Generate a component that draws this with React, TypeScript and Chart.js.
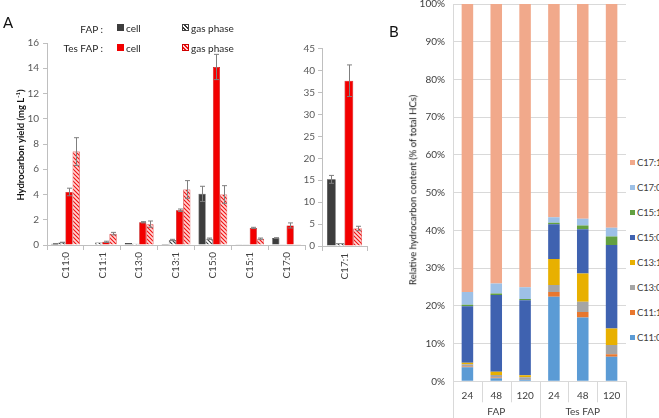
import React, { useEffect, useRef } from 'react';
import { Chart, registerables } from 'chart.js';
Chart.register(...registerables);

// ---------- Panel A data (mg L-1) ----------
const categoriesA = ['C11:0', 'C11:1', 'C13:0', 'C13:1', 'C15:0', 'C15:1', 'C17:0'];
const fapCell = [0.1, 0, 0.15, 0.07, 4.05, 0.05, 0.55];
const fapGas = [0.2, 0.2, 0.1, 0.4, 0.5, 0.02, 0.02];
const tesCell = [4.2, 0.25, 1.8, 2.75, 14.1, 1.35, 1.55];
const tesGas = [7.4, 0.9, 1.65, 4.4, 4.0, 0.5, 0.05];
const fapCellErr = [0.02, 0, 0, 0, 0.6, 0, 0.03];
const fapGasErr = [0.02, 0, 0, 0.05, 0.05, 0, 0];
const tesCellErr = [0.3, 0.05, 0.05, 0.1, 1.0, 0.05, 0.2];
const tesGasErr = [1.1, 0.1, 0.25, 0.7, 0.7, 0.05, 0];

const categoriesA2 = ['C17:1'];
const fapCell2 = [15.2];
const fapGas2 = [0.6];
const tesCell2 = [37.7];
const tesGas2 = [4.0];
const fapCellErr2 = [0.9];
const fapGasErr2 = [0];
const tesCellErr2 = [3.6];
const tesGasErr2 = [0.5];

const yTicksA = { min: 0, max: 16, step: 2 };
const yTicksA2 = { min: 0, max: 45, step: 5 };

// ---------- Panel B data (% of total HCs) ----------
const timesB = ['24', '48', '120', '24', '48', '120'];
const groupsB = ['FAP', 'Tes FAP'];
const groupSizeB = [3, 3];
const seriesNamesB = ['C11:0', 'C11:1', 'C13:0', 'C13:1', 'C15:0', 'C15:1', 'C17:0', 'C17:1'];
const c110 = [3.7, 0.8, 0.5, 22.4, 16.9, 6.5];
const c111 = [0.2, 0.2, 0.1, 1.3, 1.5, 0.7];
const c130 = [0.6, 0.7, 0.5, 1.8, 2.7, 2.4];
const c131 = [0.4, 0.8, 0.5, 6.9, 7.5, 4.4];
const c150 = [15.0, 20.4, 19.9, 9.2, 11.7, 22.1];
const c151 = [0.4, 0.4, 0.3, 0.4, 1.0, 2.3];
const c170 = [3.4, 2.6, 3.1, 1.5, 1.8, 2.3];
const c171 = [76.3, 74.1, 75.1, 56.5, 56.9, 59.3];
const seriesB = [c110, c111, c130, c131, c150, c151, c170, c171];

const colorsB = ['#5B9BD5', '#E8772E', '#A5A5A5', '#E8B000', '#3F62B0', '#62A041', '#9DC0E6', '#F1A98B'];

const FONT = 'Lato, "Liberation Sans", sans-serif';

function makeHatch(bg: string, fg: string) {
  const c = document.createElement('canvas');
  c.width = 4;
  c.height = 4;
  const g = c.getContext('2d')!;
  g.fillStyle = bg;
  g.fillRect(0, 0, 4, 4);
  g.strokeStyle = fg;
  g.lineWidth = 1.1;
  g.beginPath();
  g.moveTo(0, 0); g.lineTo(4, 4);
  g.moveTo(-2, 2); g.lineTo(2, 6);
  g.moveTo(2, -2); g.lineTo(6, 2);
  g.stroke();
  return g.createPattern(c, 'repeat');
}

const errorBarsPlugin = {
  id: 'errorBars',
  afterDatasetsDraw(chart: any) {
    const ctx = chart.ctx;
    const ys = chart.scales.y;
    chart.data.datasets.forEach((ds: any, i: number) => {
      const errs = ds.errors;
      if (!errs) return;
      const meta = chart.getDatasetMeta(i);
      meta.data.forEach((bar: any, j: number) => {
        const e = errs[j];
        if (!e) return;
        const v = ds.data[j];
        const x = Math.round(bar.x) + 0.5;
        const yt = ys.getPixelForValue(v + e);
        const yb = ys.getPixelForValue(Math.max(0, v - e));
        ctx.save();
        ctx.strokeStyle = '#7F7F7F';
        ctx.lineWidth = 1;
        ctx.beginPath();
        ctx.moveTo(x, yt); ctx.lineTo(x, yb);
        ctx.moveTo(x - 2.5, yt); ctx.lineTo(x + 2.5, yt);
        ctx.moveTo(x - 2.5, yb); ctx.lineTo(x + 2.5, yb);
        ctx.stroke();
        ctx.restore();
      });
    });
  },
};

const multiLevelPlugin = {
  id: 'multiLevel',
  afterDraw(chart: any) {
    const xs = chart.scales.x;
    const ctx = chart.ctx;
    const area = chart.chartArea;
    const n = chart.data.labels.length;
    const w = xs.getPixelForValue(1) - xs.getPixelForValue(0);
    const start = xs.getPixelForValue(0) - w / 2;
    const bounds: number[] = [0];
    let acc = 0;
    groupSizeB.forEach((s) => { acc += s; bounds.push(acc); });
    ctx.save();
    ctx.strokeStyle = '#D9D9D9';
    ctx.lineWidth = 1;
    for (let i = 0; i <= n; i++) {
      const x = Math.round(start + i * w) + 0.5;
      const long = bounds.includes(i);
      ctx.beginPath();
      ctx.moveTo(x, area.bottom);
      ctx.lineTo(x, long ? chart.height : area.bottom + 21);
      ctx.stroke();
    }
    ctx.fillStyle = '#404040';
    ctx.font = '10px ' + FONT;
    ctx.textAlign = 'center';
    ctx.textBaseline = 'middle';
    groupsB.forEach((g, k) => {
      const a = bounds[k], b = bounds[k + 1];
      const cx = start + ((a + b) / 2) * w;
      ctx.fillText(g, cx, area.bottom + 30.5);
    });
    ctx.restore();
  },
};

function barDatasetsA(fc: number[], fg: number[], tc: number[], tg: number[], fce: number[], fge: number[], tce: number[], tge: number[], fapPat: any, tesPat: any) {
  return [
    { label: 'FAP cell', data: fc, errors: fce, backgroundColor: '#3D3D3D', borderColor: '#262626', borderWidth: 0.6 },
    { label: 'FAP gas phase', data: fg, errors: fge, backgroundColor: fapPat, borderColor: '#404040', borderWidth: 0.6 },
    { label: 'Tes FAP cell', data: tc, errors: tce, backgroundColor: '#F20000', borderColor: '#B00000', borderWidth: 0.6 },
    { label: 'Tes FAP gas phase', data: tg, errors: tge, backgroundColor: tesPat, borderColor: '#D00000', borderWidth: 0.6 },
  ];
}

function axesA(yr: { min: number; max: number; step: number }, yWidth: number, xHeight: number, pad: number) {
  return {
    x: {
      grid: { display: true, drawOnChartArea: false, offset: true, color: '#BFBFBF', tickLength: 5 },
      border: { color: '#BFBFBF' },
      ticks: { minRotation: 90, maxRotation: 90, autoSkip: false, padding: 2, color: '#404040', font: { size: 10, family: FONT } },
      afterFit: (s: any) => { s.height = xHeight; },
    },
    y: {
      min: yr.min,
      max: yr.max,
      grid: { drawOnChartArea: false, tickLength: 4, color: '#BFBFBF' },
      border: { color: '#BFBFBF' },
      ticks: { stepSize: yr.step, padding: pad, color: '#595959', font: { size: 10, family: FONT } },
      afterFit: (s: any) => { s.width = yWidth; },
    },
  };
}

export default function App() {
  const r1 = useRef<HTMLCanvasElement>(null);
  const r2 = useRef<HTMLCanvasElement>(null);
  const r3 = useRef<HTMLCanvasElement>(null);

  useEffect(() => {
    const fapPat = makeHatch('#FFFFFF', '#3A3A3A');
    const tesPat = makeHatch('#FFD6D6', '#F01010');
    const base = {
      responsive: false,
      animation: false as const,
      devicePixelRatio: 1,
      plugins: { legend: { display: false }, tooltip: { enabled: false } },
    };

    const c1 = new Chart(r1.current!, {
      type: 'bar',
      data: {
        labels: categoriesA,
        datasets: barDatasetsA(fapCell, fapGas, tesCell, tesGas, fapCellErr, fapGasErr, tesCellErr, tesGasErr, fapPat, tesPat) as any,
      },
      options: {
        ...base,
        datasets: { bar: { categoryPercentage: 0.78, barPercentage: 1 } },
        layout: { padding: { top: 43, right: 5, left: 0, bottom: 0 } },
        scales: axesA(yTicksA, 47, 45, 4) as any,
      },
      plugins: [errorBarsPlugin],
    });

    const c2 = new Chart(r2.current!, {
      type: 'bar',
      data: {
        labels: categoriesA2,
        datasets: barDatasetsA(fapCell2, fapGas2, tesCell2, tesGas2, fapCellErr2, fapGasErr2, tesCellErr2, tesGasErr2, fapPat, tesPat) as any,
      },
      options: {
        ...base,
        datasets: { bar: { categoryPercentage: 0.78, barPercentage: 1 } },
        layout: { padding: { top: 48.7, right: 3, left: 0, bottom: 0 } },
        scales: axesA(yTicksA2, 32, 44, 3) as any,
      },
      plugins: [errorBarsPlugin],
    });

    const c3 = new Chart(r3.current!, {
      type: 'bar',
      data: {
        labels: timesB,
        datasets: seriesB.map((d, i) => ({
          label: seriesNamesB[i],
          data: d,
          backgroundColor: colorsB[i],
          borderWidth: 0,
        })),
      },
      options: {
        ...base,
        datasets: { bar: { categoryPercentage: 0.4, barPercentage: 1 } },
        layout: { padding: { top: 13.5, right: 4, left: 0, bottom: 0 } },
        scales: {
          x: {
            stacked: true,
            grid: { display: false, drawTicks: false },
            border: { display: false },
            ticks: { padding: 8, color: '#404040', font: { size: 10, family: FONT } },
            afterFit: (s: any) => { s.height = 36.7; },
          },
          y: {
            stacked: true,
            min: 0,
            max: 100,
            grid: { color: '#D9D9D9', drawTicks: false },
            border: { color: '#D9D9D9' },
            ticks: { stepSize: 10, padding: 8, color: '#404040', font: { size: 10, family: FONT }, callback: (v: any) => v + '%' },
            afterFit: (s: any) => { s.width = 38; },
          },
        } as any,
      },
      plugins: [multiLevelPlugin],
    });

    return () => { c1.destroy(); c2.destroy(); c3.destroy(); };
  }, []);

  const txt: React.CSSProperties = { position: 'absolute', fontFamily: FONT, whiteSpace: 'nowrap', lineHeight: 1 };
  const sq = (bg: string): React.CSSProperties => ({ position: 'absolute', width: 7, height: 7, background: bg, boxSizing: 'border-box' });
  const hatchCss = (bg: string, fg: string) => `repeating-linear-gradient(45deg, ${bg} 0 1.4px, ${fg} 1.4px 2.6px)`;

  return (
    <div style={{ position: 'fixed', left: 0, top: 0, width: 659, height: 418, overflow: 'hidden', background: '#fff' }}>
      <canvas ref={r1} width={310} height={290} style={{ position: 'absolute', left: 0, top: 0 }} />
      <canvas ref={r2} width={80} height={290} style={{ position: 'absolute', left: 290, top: 0 }} />
      <canvas ref={r3} width={215} height={428} style={{ position: 'absolute', left: 415, top: -10 }} />

      <div style={{ ...txt, left: 3, top: 15, fontSize: 15, color: '#111' }}>A</div>
      <div style={{ ...txt, left: 389, top: 24, fontSize: 15, color: '#111' }}>B</div>

      <div style={{ ...txt, left: 21, top: 145, fontSize: 9.5, fontWeight: 700, color: '#111', transform: 'translate(-50%, -50%) rotate(-90deg)' }}>
        Hydrocarbon yield (mg L<sup style={{ fontSize: 6, verticalAlign: 'super', lineHeight: 0 }}>-1</sup>)
      </div>
      <div style={{ ...txt, left: 413, top: 190, fontSize: 9.5, color: '#111', transform: 'translate(-50%, -50%) rotate(-90deg)' }}>
        Relative hydrocarbon content (% of total HCs)
      </div>

      {/* Panel A legend */}
      <div style={{ ...txt, right: 659 - 103, top: 24, fontSize: 10, color: '#262626' }}>FAP :</div>
      <div style={{ ...txt, right: 659 - 103, top: 43, fontSize: 10, color: '#262626' }}>Tes FAP :</div>
      <div style={{ ...sq('#3D3D3D'), left: 117, top: 24 }} />
      <div style={{ ...txt, left: 126, top: 23, fontSize: 10, color: '#262626' }}>cell</div>
      <div style={{ ...sq(hatchCss('#FFFFFF', '#3A3A3A')), left: 182, top: 24, border: '0.6px solid #404040' }} />
      <div style={{ ...txt, left: 191, top: 23, fontSize: 10, color: '#262626' }}>gas phase</div>
      <div style={{ ...sq('#F20000'), left: 117, top: 44 }} />
      <div style={{ ...txt, left: 126, top: 43, fontSize: 10, color: '#262626' }}>cell</div>
      <div style={{ ...sq(hatchCss('#FFD6D6', '#F01010')), left: 182, top: 44, border: '0.6px solid #D00000' }} />
      <div style={{ ...txt, left: 191, top: 43, fontSize: 10, color: '#262626' }}>gas phase</div>

      {/* Panel B legend */}
      {seriesNamesB.map((name, i) => {
        const k = seriesNamesB.length - 1 - i;
        const cy = 162.7 + k * 25;
        return (
          <React.Fragment key={name}>
            <div style={{ position: 'absolute', left: 630, top: cy - 3, width: 5, height: 5, background: colorsB[i] }} />
            <div style={{ ...txt, left: 637, top: cy - 5, fontSize: 9.5, letterSpacing: -0.2, color: '#404040' }}>{name}</div>
          </React.Fragment>
        );
      })}
    </div>
  );
}
